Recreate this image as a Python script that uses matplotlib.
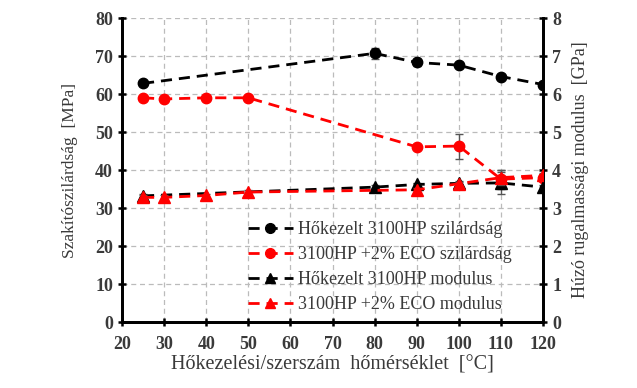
import numpy as np
import matplotlib.pyplot as plt
from matplotlib.lines import Line2D

# temperatures [°C]
x_ref = [25, 80, 90, 100, 110, 120]
x_eco = [25, 30, 40, 50, 90, 100, 110, 120]

# tensile strength [MPa]
str_ref = [62.8, 70.7, 68.3, 67.6, 64.6, 62.5]
str_ref_err = [0.6, 1.5, 0.8, 0.6, 0.7, 0.6]
str_eco = [59.0, 58.7, 59.0, 59.0, 46.1, 46.3, 37.6, 38.0]
str_eco_err = [0.5, 0.5, 0.5, 0.5, 0.6, 3.3, 2.5, 0.6]

# tensile modulus [GPa]
mod_ref = [3.32, 3.55, 3.62, 3.65, 3.66, 3.55]
mod_ref_err = [0.05, 0.05, 0.05, 0.05, 0.3, 0.05]
mod_eco = [3.28, 3.28, 3.33, 3.42, 3.48, 3.64, 3.80, 3.86]
mod_eco_err = [0.05, 0.05, 0.05, 0.05, 0.05, 0.05, 0.2, 0.05]

labels = ['Hőkezelt 3100HP szilárdság', '3100HP +2% ECO szilárdság',
          'Hőkezelt 3100HP modulus', '3100HP +2% ECO modulus']

plt.rcParams['font.family'] = ['Liberation Serif', 'DejaVu Serif']
txt = '#3a3a3a'

fig = plt.figure(figsize=(6.37, 3.88), dpi=100)
ax = fig.add_axes([0.1915, 0.170, 0.661, 0.7836])
ax2 = ax.twinx()

dash = (4, 2.5)
kw = dict(lw=2, dashes=dash, capsize=3, elinewidth=1, ecolor='#555555')

ax.errorbar(x_ref, str_ref, yerr=str_ref_err, color='black', marker='o', ms=7.5, zorder=4, **kw)
ax.errorbar(x_eco, str_eco, yerr=str_eco_err, color='red', marker='o', ms=7.5, zorder=3, **kw)
ax2.errorbar(x_ref, mod_ref, yerr=mod_ref_err, color='black', marker='^', ms=9, zorder=3, **kw)
ax2.errorbar(x_eco, mod_eco, yerr=mod_eco_err, color='red', marker='^', ms=9, zorder=4, **kw)

ax.set_xlim(20, 120)
ax.set_ylim(0, 80)
ax2.set_ylim(0, 8)
ax.set_xticks(np.arange(20, 121, 10))
ax.set_yticks(np.arange(0, 81, 10))
ax2.set_yticks(np.arange(0, 9, 1))
ax.grid(True, color='#bbbbbb', ls=(0, (4, 3)), lw=0.9)
ax.set_axisbelow(True)

for a in (ax, ax2):
    a.spines['top'].set_visible(False)
    for s in ('left', 'right', 'bottom'):
        a.spines[s].set_linewidth(2)
    a.tick_params(direction='inout', width=1.8, length=6, labelsize=13, labelcolor=txt)
    for lab in a.get_xticklabels() + a.get_yticklabels():
        lab.set_fontweight('bold')
ax.tick_params(axis='x', pad=7)

ax.set_xlabel('Hőkezelési/szerszám  hőmérséklet  [°C]', fontsize=14.5, color=txt, labelpad=2)
ax.set_ylabel('Szakítószilárdság  [MPa]', fontsize=12.5, color=txt, labelpad=12)
ax2.set_ylabel('Húzó rugalmassági modulus  [GPa]', fontsize=13, color=txt, labelpad=8)

handles = [Line2D([], [], color=c, marker=m, ms=7, lw=2, dashes=dash)
           for c, m in [('black', 'o'), ('red', 'o'), ('black', '^'), ('red', '^')]]
leg = ax2.legend(handles, labels, loc='lower right', bbox_to_anchor=(0.965, -0.025),
                 frameon=False, fontsize=13, handlelength=2.5, labelspacing=0.45,
                 handletextpad=0.3)
for t in leg.get_texts():
    t.set_color(txt)

fig.savefig('out.png', dpi=100)
